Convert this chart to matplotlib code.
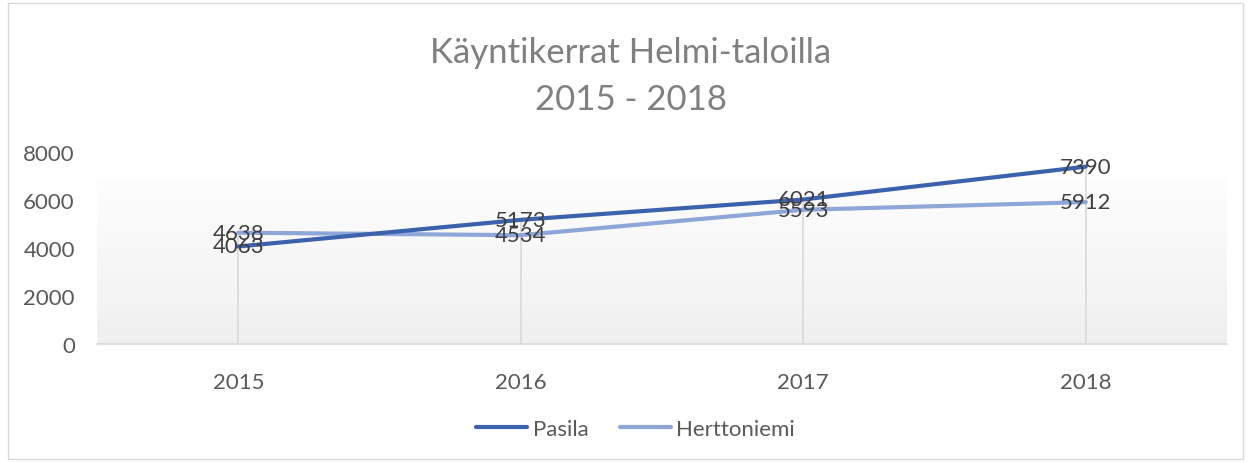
import matplotlib.pyplot as plt
import numpy as np
from matplotlib.patches import Rectangle

years = ["2015", "2016", "2017", "2018"]
pasila = [4063, 5173, 6021, 7390]
herttoniemi = [4638, 4534, 5593, 5912]
yticks = [0, 2000, 4000, 6000, 8000]

plt.rcParams['font.family'] = ['Lato', 'DejaVu Sans']

fig = plt.figure(figsize=(12.51, 4.64), dpi=100)
fig.patches.append(Rectangle((0.006, 0.009), 0.988, 0.982, transform=fig.transFigure,
                             fill=False, edgecolor="#d9d9d9", linewidth=1))

# plot area: x 97..1227 px, y 0 at 345 px, 8000 at 153 px
W, H = 1251, 464
ymax = 8000 * (345 - 10) / 192.0
ax = fig.add_axes([97 / W, (H - 345) / H, (1227 - 97) / W, (345 - 10) / H])
ax.set_xlim(-0.5, 3.5)
ax.set_ylim(0, ymax)

# gradient background
gtop = (345 - 180) / 48.0 * 2000
grad = np.linspace(0.94, 0.995, 100).reshape(-1, 1)
ax.imshow(np.dstack([grad, grad, grad]), extent=(-0.5, 3.5, 0, gtop), aspect="auto",
          origin="lower", zorder=0)

x = np.arange(len(years))
ax.vlines(x, 0, np.maximum(pasila, herttoniemi), color="#d9d9d9", linewidth=1.2, zorder=1)
ax.plot(x, pasila, color="#3c62ad", linewidth=3, solid_capstyle="round", label="Pasila", zorder=3)
ax.plot(x, herttoniemi, color="#8fa6d8", linewidth=3, solid_capstyle="round", label="Herttoniemi", zorder=2)

for xi, v in zip(x, herttoniemi):
    ax.text(xi, v, str(v), ha="center", va="center", fontsize=16, color="#404040", zorder=4)
for xi, v in zip(x, pasila):
    ax.text(xi, v, str(v), ha="center", va="center", fontsize=16, color="#404040", zorder=4)

for s in ["top", "right", "left"]:
    ax.spines[s].set_visible(False)
ax.spines["bottom"].set_color("#d9d9d9")
ax.spines["bottom"].set_linewidth(1.2)
ax.set_xticks(x)
ax.set_xticklabels(years)
ax.set_yticks(yticks)
ax.tick_params(length=0, labelsize=16, colors="#595959")
ax.tick_params(axis="x", pad=20)
ax.tick_params(axis="y", pad=16)

fig.text(0.504, 1 - 53 / H, "Käyntikerrat Helmi-taloilla", ha="center", va="center",
         fontsize=25, color="#808080")
fig.text(0.504, 1 - 100 / H, "2015 - 2018", ha="center", va="center",
         fontsize=25, color="#808080")

fig.legend(loc="center", bbox_to_anchor=(0.508, 1 - 430 / H), ncol=2, frameon=False,
           fontsize=16, handlelength=2.3, handletextpad=0.25, columnspacing=1.4,
           labelcolor="#595959")

fig.savefig("out.png", dpi=100)
